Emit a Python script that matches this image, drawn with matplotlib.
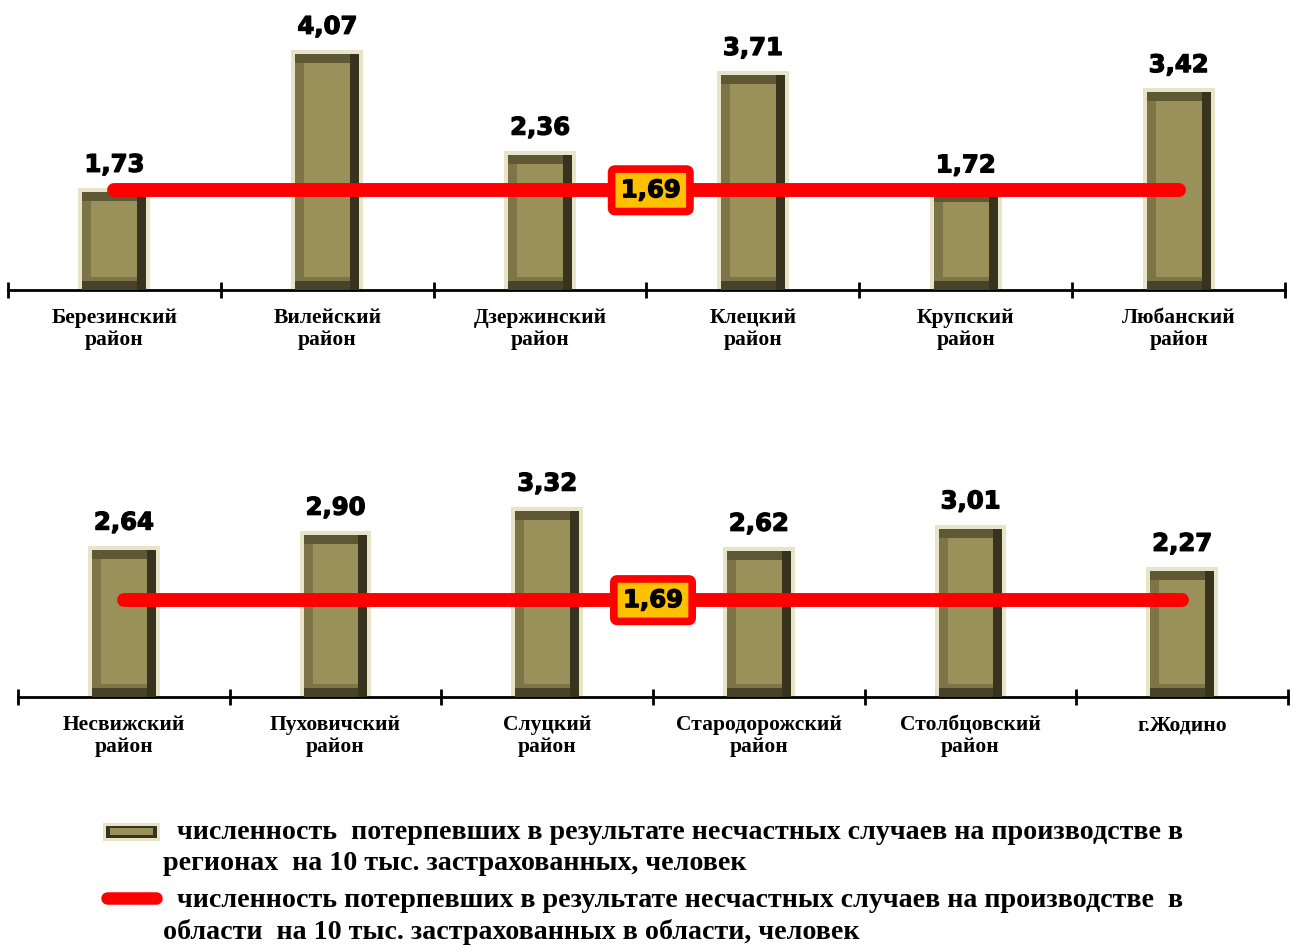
import matplotlib.pyplot as plt
import matplotlib.patheffects as pe
from matplotlib.patches import Rectangle
from matplotlib.lines import Line2D

# data
top_labels = ["Березинский\nрайон", "Вилейский\nрайон", "Дзержинский\nрайон",
              "Клецкий\nрайон", "Крупский\nрайон", "Любанский\nрайон"]
top_values = [1.73, 4.07, 2.36, 3.71, 1.72, 3.42]
bottom_labels = ["Несвижский\nрайон", "Пуховичский\nрайон", "Слуцкий\nрайон",
                 "Стародорожский\nрайон", "Столбцовский\nрайон", "г.Жодино"]
bottom_values = [2.64, 2.90, 3.32, 2.62, 3.01, 2.27]
region_avg = 1.69

legend_bar_text = ("численность  потерпевших в результате несчастных случаев на производстве в\n"
                   "регионах  на 10 тыс. застрахованных, человек")
legend_line_text = ("численность потерпевших в результате несчастных случаев на производстве  в\n"
                    "области  на 10 тыс. застрахованных в области, человек")

W, H = 1300, 947
NUMFONT = "DejaVu Sans"
SERIF = "Liberation Serif"

LIGHT = "#e8e4c7"
TOPSH = "#5f5834"
LEFTSH = "#7d7547"
RIGHTSH = "#38331e"
BOTSH = "#48422a"
OLIVE = "#9a905a"

# heavier strokes for the numbers
HEAVY = [pe.withStroke(linewidth=0.9, foreground="black")]

fig = plt.figure(figsize=(W / 100, H / 100), dpi=100)


def px_axes(x0, x1, y_base, px_per_unit, ymax=4.9):
    # build axes from pixel positions of the baseline
    height_px = ymax * px_per_unit
    ax = fig.add_axes([x0 / W, (H - y_base) / H, (x1 - x0) / W, height_px / H])
    ax.set_ylim(0, ymax)
    ax.set_xlim(-0.5, 5.5)
    return ax


def bevel_bars(ax, values, ppu, ppx):
    # ppu: pixels per y unit, ppx: pixels per category
    x = list(range(len(values)))
    w = 0.338
    dx = 1.0 / ppx
    dy = 1.0 / ppu
    fr = 4   # outer light frame, px
    bv = 9   # bevel width, px
    left = [i - w / 2 + fr * dx for i in x]
    inner_w = w - 2 * fr * dx
    # outer frame
    ax.bar(x, values, width=w, color=LIGHT, zorder=2)
    # bevel base (left side)
    ax.bar(left, [v - fr * dy for v in values], width=inner_w, align="edge",
           color=LEFTSH, zorder=3)
    # top strip
    ax.bar(left, [bv * dy] * len(values), bottom=[v - (fr + bv) * dy for v in values],
           width=inner_w, align="edge", color=TOPSH, zorder=4)
    # bottom strip
    ax.bar(left, [bv * dy] * len(values), width=inner_w, align="edge",
           color=BOTSH, zorder=4)
    # right strip
    ax.bar([i + w / 2 - (fr + bv) * dx for i in x], [v - fr * dy for v in values],
           width=bv * dx, align="edge", color=RIGHTSH, zorder=5)
    # olive face
    ax.bar(x, [v - 2 * (fr + bv) * dy for v in values], bottom=(fr + bv) * dy,
           width=w - 2 * (fr + bv) * dx, color=OLIVE, zorder=6)
    for xi, v in zip(x, values):
        ax.annotate(f"{v:.2f}".replace(".", ","), (xi, v), xytext=(0, 8),
                    textcoords="offset points", ha="center", va="bottom",
                    fontsize=17.5, fontweight="bold", family=NUMFONT, zorder=8,
                    path_effects=HEAVY)


def avg_line(ax, n, xpos):
    ax.plot([0, n - 1], [region_avg, region_avg], color="#ff0000", lw=10,
            solid_capstyle="round", zorder=7)
    ax.text(xpos, region_avg, f"{region_avg:.2f}".replace(".", ","),
            ha="center", va="center", fontsize=17.5, fontweight="bold", family=NUMFONT,
            zorder=9, path_effects=HEAVY,
            bbox=dict(boxstyle="round,pad=0.38,rounding_size=0.15",
                      facecolor="#ffc000", edgecolor="#ff0000", linewidth=5.5))


def style_axis(ax, labels):
    for s in ["top", "right", "left"]:
        ax.spines[s].set_visible(False)
    ax.spines["bottom"].set_linewidth(2)
    ax.set_yticks([])
    ax.set_xticks(range(len(labels)))
    ax.set_xticklabels(labels, fontsize=15.5, fontweight="bold", family=SERIF,
                       linespacing=1.15, va="top")
    ax.tick_params(axis="x", which="major", length=0, pad=13)
    ax.set_xticks([i - 0.5 for i in range(len(labels) + 1)], minor=True)
    ax.tick_params(axis="x", which="minor", direction="inout", length=12, width=2)


ax1 = px_axes(8, 1285, 290, 59.0)
bevel_bars(ax1, top_values, 59.0, 212.8)
avg_line(ax1, len(top_values), 2.52)
style_axis(ax1, top_labels)

ax2 = px_axes(18, 1288, 697, 57.3)
bevel_bars(ax2, bottom_values, 57.3, 211.7)
avg_line(ax2, len(bottom_values), 2.5)
style_axis(ax2, bottom_labels)


# legend drawn in figure pixels
def fx(px):
    return px / W


def fy(py):
    return (H - py) / H


fig.patches.append(Rectangle((fx(103), fy(841)), 57 / W, 18 / H, transform=fig.transFigure,
                             facecolor=LIGHT, edgecolor="none"))
fig.patches.append(Rectangle((fx(106), fy(838)), 51 / W, 12 / H, transform=fig.transFigure,
                             facecolor=RIGHTSH, edgecolor="none"))
fig.patches.append(Rectangle((fx(110), fy(835)), 43 / W, 7 / H, transform=fig.transFigure,
                             facecolor=OLIVE, edgecolor="none"))
fig.lines.append(Line2D([fx(107), fx(156)], [fy(898), fy(898)], transform=fig.transFigure,
                        color="#ff0000", lw=9, solid_capstyle="round"))

fig.text(fx(163), fy(820), "  " + legend_bar_text, ha="left", va="top", fontsize=20.2,
         fontweight="bold", family=SERIF, linespacing=1.32)
fig.text(fx(163), fy(888), "  " + legend_line_text, ha="left", va="top", fontsize=20.2,
         fontweight="bold", family=SERIF, linespacing=1.32)

fig.savefig("out.png", dpi=100)
